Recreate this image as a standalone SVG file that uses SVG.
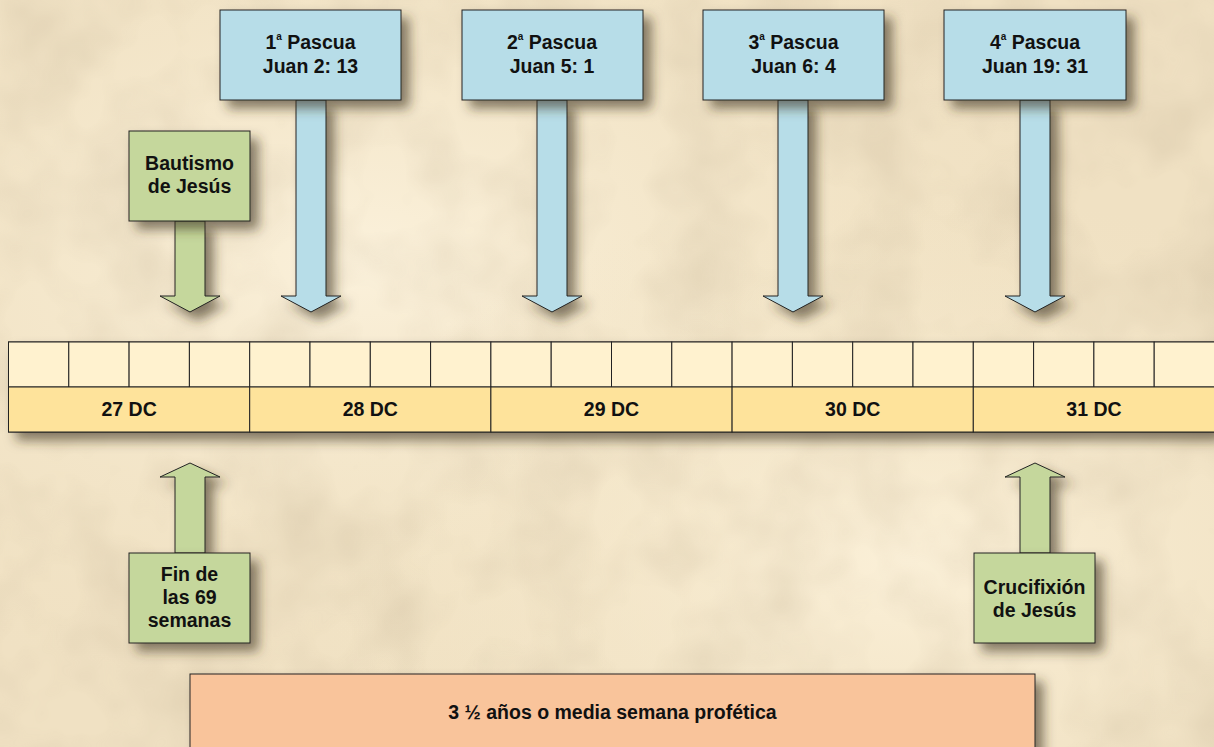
<svg xmlns="http://www.w3.org/2000/svg" width="1214" height="747" viewBox="0 0 1214 747">
<defs>
<filter id="shadow" x="-20%" y="-20%" width="150%" height="150%">
<feDropShadow dx="8" dy="8" stdDeviation="6" flood-color="#3a3020" flood-opacity="0.6"/>
</filter>
<filter id="paper" x="0" y="0" width="100%" height="100%">
<feTurbulence type="fractalNoise" baseFrequency="0.012" numOctaves="3" seed="4" result="n"/>
<feColorMatrix in="n" type="matrix" values="0 0 0 0 0.55  0 0 0 0 0.45  0 0 0 0 0.3  0 0 0 -1.6 1.0" result="c"/>
<feComposite in="c" in2="SourceGraphic" operator="in"/>
</filter>
<radialGradient id="glow1" cx="0.3" cy="0.35" r="0.6">
<stop offset="0" stop-color="#fbf1db"/>
<stop offset="1" stop-color="#f3e5c6" stop-opacity="0"/>
</radialGradient>
<radialGradient id="glow2" cx="0.75" cy="0.75" r="0.5">
<stop offset="0" stop-color="#fbf0d8"/>
<stop offset="1" stop-color="#f3e5c6" stop-opacity="0"/>
</radialGradient>
</defs>
<style>
.t{font-family:"Liberation Sans",Arial,sans-serif;font-weight:bold;font-size:19.5px;fill:#111;text-anchor:middle}
.sup{font-size:10px}
.blue{fill:#b7dde8;stroke:#222;stroke-width:1}
.green{fill:#c5d79c;stroke:#222;stroke-width:1}
.orange{fill:#f9c49b;stroke:#222;stroke-width:1}
.q{fill:#fff2cf;stroke:#222;stroke-width:1}
.y{fill:#fee39b;stroke:#222;stroke-width:1}
.sh{filter:url(#shadow)}
</style>
<rect width="1214" height="747" fill="#f0e1c3"/>
<rect width="1214" height="747" fill="url(#glow1)"/>
<rect width="1214" height="747" fill="url(#glow2)"/>
<rect width="1214" height="747" fill="#f0e1c3" filter="url(#paper)" opacity="0.35"/>

<g id="connectors">
<polygon class="blue sh" points="296,100 326,100 326,296 341,296 311,312 281,296 296,296"/>
<polygon class="blue sh" points="537,100 567,100 567,296 582,296 552,312 522,296 537,296"/>
<polygon class="blue sh" points="778,100 808,100 808,296 823,296 793,312 763,296 778,296"/>
<polygon class="blue sh" points="1020,100 1050,100 1050,296 1065,296 1035,312 1005,296 1020,296"/>
<polygon class="green sh" points="175,221 205,221 205,296 220,296 190,312 160,296 175,296"/>
<polygon class="green sh" points="175,553 205,553 205,477 220,477 190,463 160,477 175,477"/>
<polygon class="green sh" points="1020,553 1050,553 1050,477 1065,477 1035,463 1005,477 1020,477"/>
</g>

<g id="pascua1">
<rect class="blue sh" x="220" y="10" width="181" height="90"/>
<text class="t" x="310.5" y="49">1<tspan class="sup" dy="-9">a</tspan><tspan dy="9"> Pascua</tspan></text>
<text class="t" x="310.5" y="73">Juan 2: 13</text>
</g>
<g id="pascua2">
<rect class="blue sh" x="462" y="10" width="181" height="90"/>
<text class="t" x="552" y="49">2<tspan class="sup" dy="-9">a</tspan><tspan dy="9"> Pascua</tspan></text>
<text class="t" x="552" y="73">Juan 5: 1</text>
</g>
<g id="pascua3">
<rect class="blue sh" x="703" y="10" width="181" height="90"/>
<text class="t" x="793.5" y="49">3<tspan class="sup" dy="-9">a</tspan><tspan dy="9"> Pascua</tspan></text>
<text class="t" x="793.5" y="73">Juan 6: 4</text>
</g>
<g id="pascua4">
<rect class="blue sh" x="944" y="10" width="182" height="90"/>
<text class="t" x="1035" y="49">4<tspan class="sup" dy="-9">a</tspan><tspan dy="9"> Pascua</tspan></text>
<text class="t" x="1035" y="73">Juan 19: 31</text>
</g>

<g id="bautismo">
<rect class="green sh" x="129" y="131" width="121" height="90"/>
<text class="t" x="189.5" y="170">Bautismo</text>
<text class="t" x="189.5" y="193">de Jesús</text>
</g>

<g id="timeline">
<g class="sh">
<rect class="q" x="8.5" y="342" width="1206" height="45"/>
<rect class="y" x="8.5" y="387" width="1206" height="45"/>
</g>
<g class="q">
<rect x="8.5" y="342" width="60.3" height="45"/><rect x="68.8" y="342" width="60.3" height="45"/><rect x="129.1" y="342" width="60.3" height="45"/><rect x="189.4" y="342" width="60.3" height="45"/>
<rect x="249.7" y="342" width="60.3" height="45"/><rect x="310" y="342" width="60.3" height="45"/><rect x="370.3" y="342" width="60.3" height="45"/><rect x="430.6" y="342" width="60.3" height="45"/>
<rect x="490.9" y="342" width="60.3" height="45"/><rect x="551.2" y="342" width="60.3" height="45"/><rect x="611.5" y="342" width="60.3" height="45"/><rect x="671.8" y="342" width="60.3" height="45"/>
<rect x="732.1" y="342" width="60.3" height="45"/><rect x="792.4" y="342" width="60.3" height="45"/><rect x="852.7" y="342" width="60.3" height="45"/><rect x="913" y="342" width="60.3" height="45"/>
<rect x="973.3" y="342" width="60.3" height="45"/><rect x="1033.6" y="342" width="60.3" height="45"/><rect x="1093.9" y="342" width="60.3" height="45"/><rect x="1154.2" y="342" width="60.3" height="45"/>
</g>
<g class="y">
<rect x="8.5" y="387" width="241.2" height="45"/><rect x="249.7" y="387" width="241.2" height="45"/><rect x="490.9" y="387" width="241.2" height="45"/><rect x="732.1" y="387" width="241.2" height="45"/><rect x="973.3" y="387" width="241.2" height="45"/>
</g>
<text class="t" x="129.1" y="416">27 DC</text>
<text class="t" x="370.3" y="416">28 DC</text>
<text class="t" x="611.5" y="416">29 DC</text>
<text class="t" x="852.7" y="416">30 DC</text>
<text class="t" x="1094" y="416">31 DC</text>
</g>

<g id="fin69">
<rect class="green sh" x="129" y="553" width="121" height="90"/>
<text class="t" x="189.5" y="581">Fin de</text>
<text class="t" x="189.5" y="604">las 69</text>
<text class="t" x="189.5" y="627">semanas</text>
</g>

<g id="crucifixion">
<rect class="green sh" x="974" y="553" width="121" height="90"/>
<text class="t" x="1034.5" y="594">Crucifixión</text>
<text class="t" x="1034.5" y="617">de Jesús</text>
</g>

<g id="mediasemana">
<rect class="orange sh" x="190" y="674" width="845" height="90"/>
<text class="t" x="612.5" y="719">3 ½ años o media semana profética</text>
</g>
</svg>
